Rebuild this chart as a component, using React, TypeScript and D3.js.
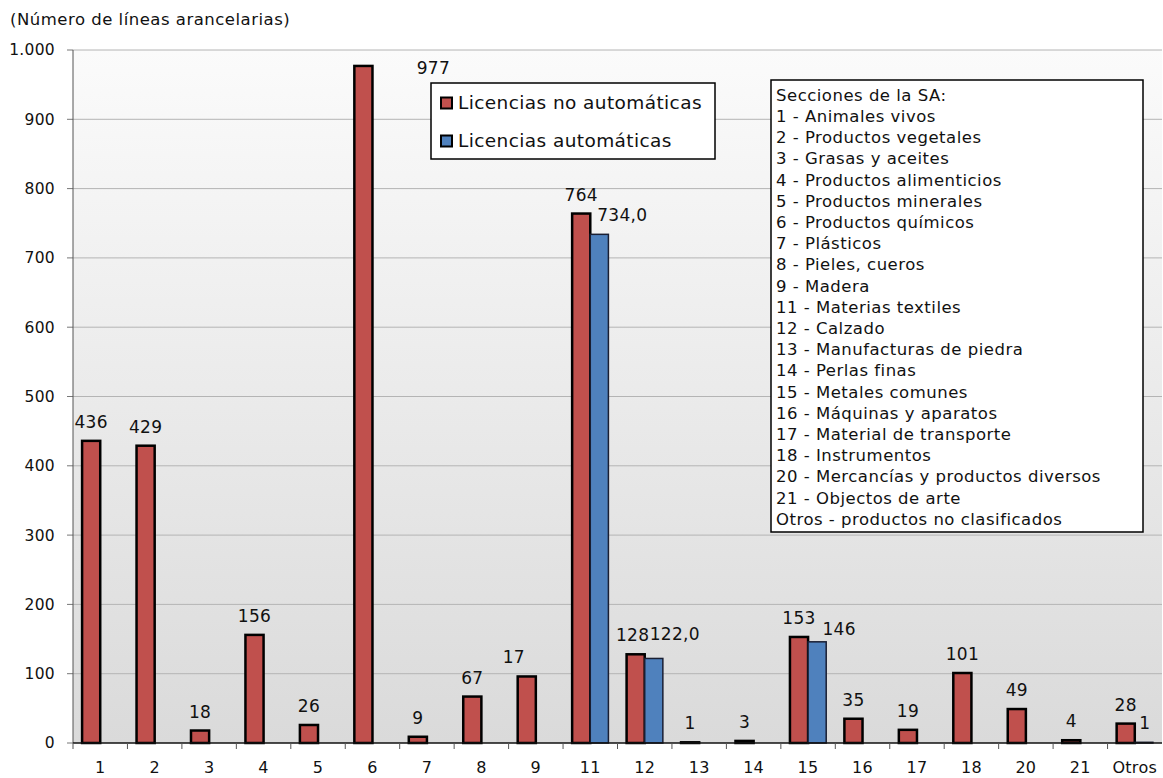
import React from 'react'
import * as d3 from 'd3'

// HS sections on the x axis
const categories = ['1', '2', '3', '4', '5', '6', '7', '8', '9', '11', '12', '13', '14', '15', '16', '17', '18', '20', '21', 'Otros']

// Licencias no automáticas (bar heights) and their printed labels
const noAutoValues = [436, 429, 18, 156, 26, 977, 9, 67, 96, 764, 128, 1, 3, 153, 35, 19, 101, 49, 4, 28]
const noAutoLabels = ['436', '429', '18', '156', '26', '977', '9', '67', '17', '764', '128', '1', '3', '153', '35', '19', '101', '49', '4', '28']

// Licencias automáticas, only where present
const autoValues: (number | null)[] = [null, null, null, null, null, null, null, null, null, 734, 122, null, null, 146, null, null, null, null, null, 1]
const autoLabels: (string | null)[] = [null, null, null, null, null, null, null, null, null, '734,0', '122,0', null, null, '146', null, null, null, null, null, '1']

const yTicks = [0, 100, 200, 300, 400, 500, 600, 700, 800, 900, 1000]

const seriesNames = ['Licencias no automáticas', 'Licencias automáticas']

const sectionLines = [
  'Secciones de la SA:',
  '1 - Animales vivos',
  '2 - Productos vegetales',
  '3 - Grasas y aceites',
  '4 - Productos alimenticios',
  '5 - Productos minerales',
  '6 - Productos químicos',
  '7 - Plásticos',
  '8 - Pieles, cueros',
  '9 - Madera',
  '11 - Materias textiles',
  '12 - Calzado',
  '13 - Manufacturas de piedra',
  '14 - Perlas finas',
  '15 - Metales comunes',
  '16 - Máquinas y aparatos',
  '17 - Material de transporte',
  '18 - Instrumentos',
  '20 - Mercancías y productos diversos',
  '21 - Objectos de arte',
  'Otros - productos no clasificados'
]

const RED = '#c0504d'
const BLUE = '#4f81bd'
const FONT = '"DejaVu Sans", Verdana, sans-serif'

// label placement tweaks (Excel moved some labels to avoid overlaps)
const redNudge: Record<string, [number, number]> = {
  '6': [70, 21],
  '9': [-13, 0],
  '12': [-3, 0]
}
const blueNudge: Record<string, [number, number]> = {
  '11': [23, 0],
  '12': [21, -5],
  '15': [22, 6],
  'Otros': [1, 0]
}

const W = 1163
const H = 778
const margin = { left: 73, right: 1, top: 50, bottom: 35 }

export default function App() {
  const x = d3.scaleBand<string>()
    .domain(categories)
    .range([margin.left, W - margin.right])
    .padding(0)
  const bw = x.bandwidth()
  const inner = d3.scaleBand<string>()
    .domain(['no', 'auto'])
    .range([bw * 0.167, bw * 0.833])
    .padding(0)
  const y = d3.scaleLinear().domain([0, 1000]).range([H - margin.bottom, margin.top])
  const fmt = d3.formatLocale({ decimal: ',', thousands: '.', grouping: [3], currency: ['', '€'] }).format(',d')

  const x0 = margin.left
  const x1 = W - margin.right
  const yBase = y(0)

  return (
    <svg width={W} height={H} style={{ position: 'absolute', left: 0, top: 0 }} fontFamily={FONT}>
      <defs>
        <linearGradient id="plotbg" x1="0" y1="0" x2="0" y2="1">
          <stop offset="0%" stopColor="#fbfbfb" />
          <stop offset="100%" stopColor="#dadada" />
        </linearGradient>
      </defs>
      <rect x={0} y={0} width={W} height={H} fill="#ffffff" />
      <rect x={x0} y={y(1000)} width={x1 - x0} height={yBase - y(1000)} fill="url(#plotbg)" />

      {/* grid + y axis */}
      {yTicks.map(t => (
        <g key={t}>
          {t > 0 && <line x1={x0} x2={x1} y1={y(t)} y2={y(t)} stroke="#b4b4b4" strokeWidth={1} />}
          <line x1={x0 - 6} x2={x0} y1={y(t)} y2={y(t)} stroke="#777" strokeWidth={1} />
          <text x={55} y={y(t)} dy="0.35em" textAnchor="end" fontSize={15.5} letterSpacing={0.3} fill="#111">{fmt(t)}</text>
        </g>
      ))}
      <line x1={x0} x2={x0} y1={y(1000)} y2={yBase} stroke="#555" strokeWidth={1} />

      <text x={10} y={25} fontSize={16.5} letterSpacing={0.5} fill="#111">(Número de líneas arancelarias)</text>

      {/* bars */}
      {categories.map((c, i) => {
        const bx = x(c)!
        const v = noAutoValues[i]
        const av = autoValues[i]
        const rx = bx + inner('no')!
        const ax = bx + inner('auto')!
        const iw = inner.bandwidth()
        const rn = redNudge[c] || [0, 0]
        const bn = blueNudge[c] || [0, 0]
        return (
          <g key={c}>
            <rect x={rx} y={y(v)} width={iw} height={yBase - y(v)} fill={RED} stroke="#000" strokeWidth={2.5} />
            <text x={rx + iw / 2 + rn[0]} y={y(v) - 13 + rn[1]} textAnchor="middle" fontSize={17} letterSpacing={0.3} fill="#111">{noAutoLabels[i]}</text>
            {av != null && (
              <>
                <rect x={ax} y={y(av)} width={iw} height={yBase - y(av)} fill={BLUE} stroke="#1a1f33" strokeWidth={1.5} />
                <text x={ax + iw / 2 + bn[0]} y={y(av) - 13 + bn[1]} textAnchor="middle" fontSize={17} letterSpacing={0.3} fill="#111">{autoLabels[i]}</text>
              </>
            )}
          </g>
        )
      })}

      {/* x axis */}
      <line x1={x0} x2={x1} y1={yBase} y2={yBase} stroke="#111" strokeWidth={1.5} />
      {categories.map(c => (
        <g key={'x' + c}>
          <line x1={x(c)!} x2={x(c)!} y1={yBase} y2={yBase + 6} stroke="#555" strokeWidth={1} />
          <text x={x(c)! + bw / 2} y={767} dy="0.35em" textAnchor="middle" fontSize={16} letterSpacing={0.3} fill="#111">{c}</text>
        </g>
      ))}

      {/* series legend */}
      <rect x={431} y={83} width={284} height={76} fill="#fff" stroke="#000" strokeWidth={1.5} />
      {seriesNames.map((s, i) => (
        <g key={s} transform={`translate(441, ${103 + i * 38})`}>
          <rect x={0} y={-5.5} width={11} height={11} fill={i === 0 ? RED : BLUE} stroke="#000" strokeWidth={2} />
          <text x={17} y={0} dy="0.35em" fontSize={18.5} letterSpacing={0.4} fill="#111">{s}</text>
        </g>
      ))}

      {/* sections box */}
      <rect x={771} y={80} width={372} height={452} fill="#fff" stroke="#000" strokeWidth={1.5} />
      {sectionLines.map((l, i) => (
        <text key={l} x={776} y={95 + i * 21.2} dy="0.35em" fontSize={16.5} letterSpacing={0.5} fill="#111">{l}</text>
      ))}
    </svg>
  )
}
